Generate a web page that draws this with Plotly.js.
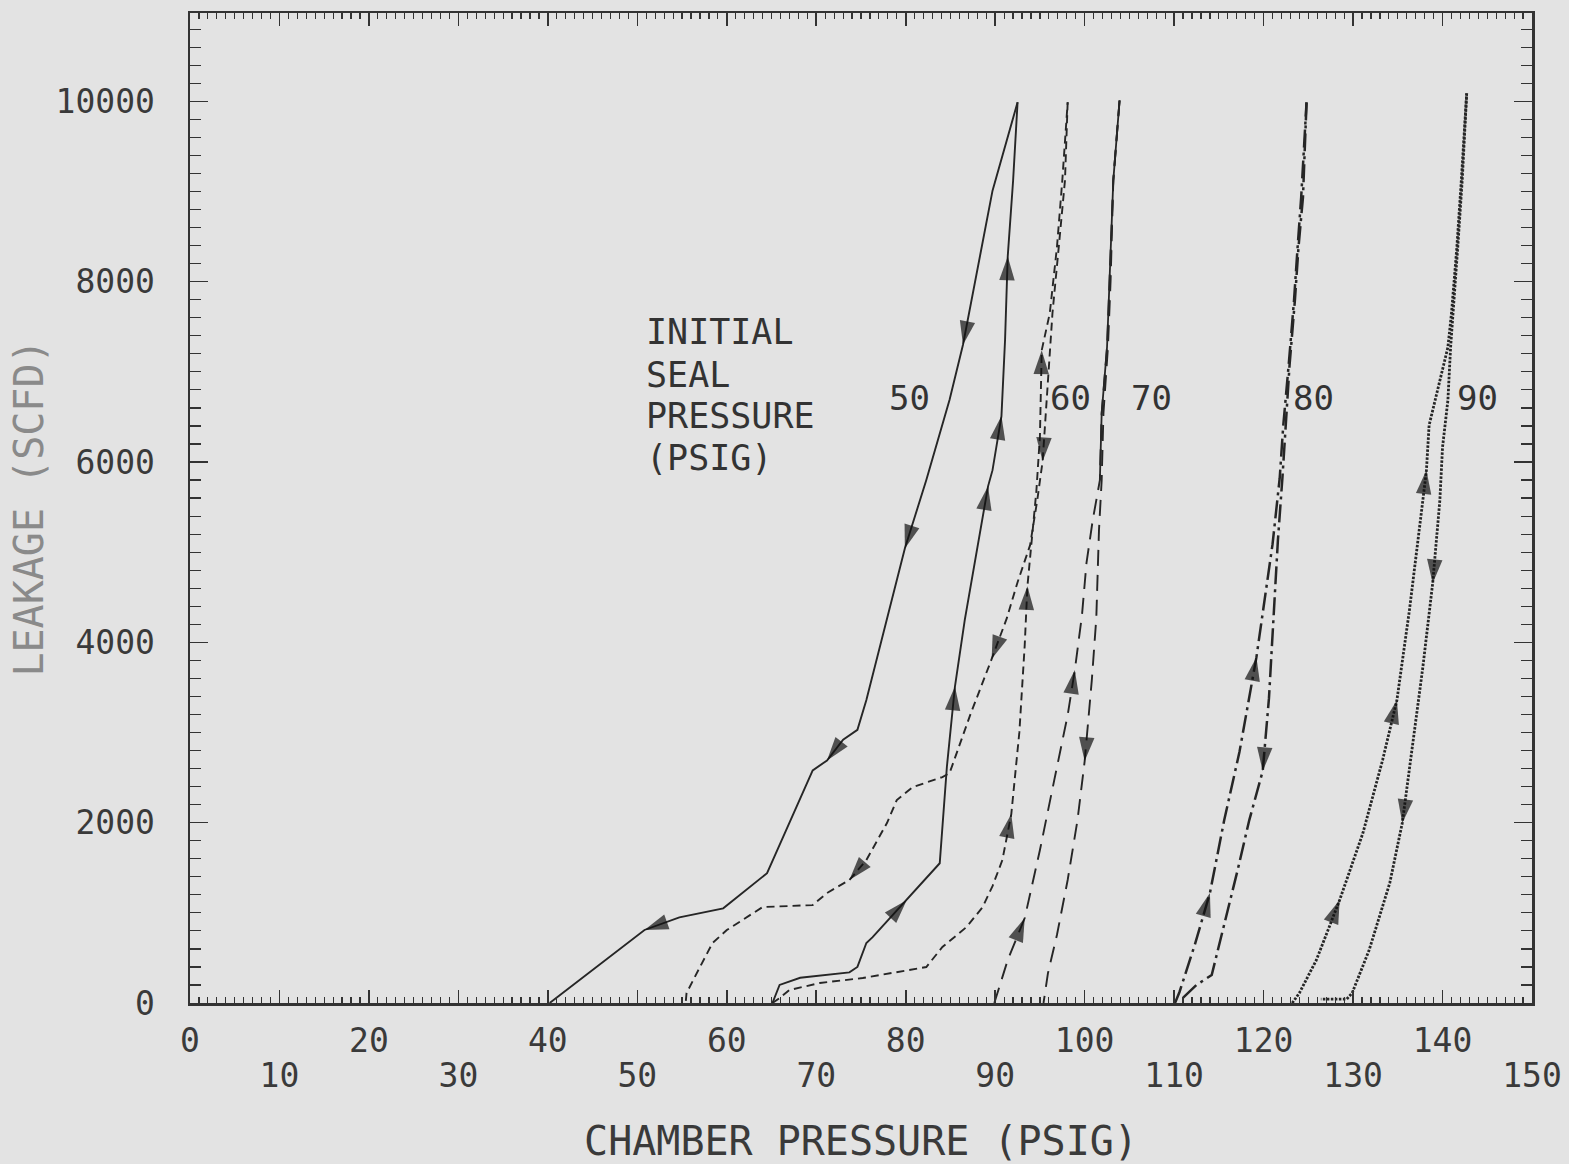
<!DOCTYPE html>
<html>
<head>
<meta charset="utf-8">
<script src="https://cdn.plot.ly/plotly-3.0.1.min.js"></script>
<style>html,body{margin:0;padding:0;background:#e3e3e3;}</style>
</head>
<body>
<div id="chart" style="width:1569px;height:1164px;"></div>
<script>
// ---------- data (chamber pressure psig, leakage scfd) ----------
// 50 psig initial seal pressure
var x50Down = [92.5, 89.7, 86.4, 84.9, 82.3, 79.9, 75.6, 74.6, 73.0, 71.2, 69.6, 64.5, 59.6, 54.7, 50.8, 40.2];
var y50Down = [9990, 9010, 7300, 6690, 5800, 5040, 3360, 3030, 2920, 2690, 2580, 1440, 1050, 950, 810, 0];
var a50Down = [2, 5, 9, 14];
var x50Up = [65.1, 65.9, 68.2, 73.7, 74.6, 75.6, 76.3, 80.1, 83.8, 84.6, 85.5, 86.6, 89.2, 89.7, 90.7, 91.1, 91.4, 92.0, 92.5];
var y50Up = [0, 200, 280, 340, 400, 665, 730, 1140, 1550, 2620, 3510, 4250, 5730, 5910, 6510, 7350, 8280, 9120, 9990];
var a50Up = [7, 10, 12, 14, 16];

// 60 psig
var x60Up = [65.1, 65.9, 67.0, 70.4, 75.2, 79.3, 82.3, 84.1, 86.8, 88.6, 89.7, 90.8, 91.8, 92.7, 93.3, 93.6, 94.1, 94.6, 95.0, 95.2, 96.1, 96.9, 97.5, 98.1];
var y60Up = [0, 55, 144, 222, 277, 344, 399, 621, 843, 1064, 1297, 1585, 2095, 3004, 3969, 4623, 5177, 5676, 6286, 7239, 7650, 8381, 9124, 9990];
var a60Up = [12, 15, 19];
var x60Down = [98.1, 97.8, 97.1, 96.4, 95.9, 95.5, 95.3, 94.7, 93.9, 92.5, 91.3, 89.6, 87.2, 84.9, 84.1, 80.8, 79.0, 77.9, 75.6, 73.7, 71.2, 69.6, 64.0, 60.0, 58.4, 57.0, 55.5, 55.4];
var y60Down = [9990, 9124, 8381, 7650, 6907, 6353, 6009, 5576, 5078, 4667, 4268, 3814, 3193, 2550, 2506, 2395, 2251, 1996, 1585, 1364, 1220, 1086, 1064, 809, 665, 399, 111, 0];
var a60Down = [6, 11, 19];

// 70 psig
var x70Up = [89.9, 91.4, 93.3, 95.0, 96.6, 98.1, 98.9, 99.7, 100.2, 100.9, 101.7, 101.9, 102.5, 102.8, 103.2, 103.9];
var y70Up = [0, 477, 942, 1696, 2472, 3193, 3692, 4302, 4878, 5355, 5798, 6541, 7273, 8016, 9124, 10010];
var a70Up = [2, 6];
var x70Down = [103.9, 103.2, 102.9, 102.6, 102.1, 101.9, 101.6, 101.3, 100.8, 100.0, 99.2, 98.1, 96.9, 95.9, 95.4];
var y70Down = [10010, 9124, 8016, 7273, 6541, 5798, 5244, 4268, 3581, 2683, 2029, 1364, 754, 333, 0];
var a70Down = [9];

// 80 psig
var x80Up = [110.1, 110.6, 112.3, 114.0, 115.6, 117.3, 119.2, 119.9, 121.0, 121.8, 122.2, 122.8, 123.4, 123.8, 124.2, 124.8];
var y80Up = [0, 122, 643, 1220, 2029, 2783, 3836, 4335, 5089, 5820, 6408, 7073, 7794, 8381, 8936, 9989];
var a80Up = [3, 6];
var x80Down = [124.8, 124.4, 123.9, 123.5, 122.9, 122.5, 122.1, 121.6, 121.1, 120.6, 119.9, 118.4, 117.1, 115.6, 114.5, 114.2, 112.5, 110.6];
var y80Down = [9989, 8936, 8381, 7794, 7073, 6408, 5820, 5133, 4279, 3381, 2572, 2029, 1475, 865, 421, 310, 200, 22];
var a80Down = [10];

// 90 psig
var x90Up = [123.2, 124.0, 125.9, 128.5, 131.1, 133.3, 134.9, 136.3, 137.8, 138.2, 138.5, 139.7, 140.6, 141.0, 141.6, 142.1, 142.7];
var y90Up = [0, 111, 477, 1142, 1885, 2694, 3359, 4357, 5576, 5909, 6408, 6907, 7273, 7650, 8381, 9124, 10089];
var a90Up = [3, 6, 9];
var x90Down = [142.7, 142.2, 141.7, 141.2, 140.9, 140.6, 140.0, 139.7, 138.9, 137.8, 136.6, 135.5, 134.1, 131.8, 129.9, 129.3, 126.4];
var y90Down = [10089, 9124, 8381, 7650, 7273, 6685, 6164, 5576, 4656, 3725, 2805, 1996, 1330, 588, 111, 44, 44];
var a90Down = [8, 11];

// labels
var curveLabels = ['50', '60', '70', '80', '90'];
var curveLabelX = [80.4, 98.4, 107.5, 125.6, 143.9];
var curveLabelY = 6707;
var noteLines = ['INITIAL', 'SEAL', 'PRESSURE', '(PSIG)'];
var noteX = 50.9;
var noteY = [7440, 6962, 6508, 6042];
var xTickVals = [0, 10, 20, 30, 40, 50, 60, 70, 80, 90, 100, 110, 120, 130, 140, 150];
var xRow1Vals = [0, 20, 40, 60, 80, 100, 120, 140];
var xRow2Vals = [10, 30, 50, 70, 90, 110, 130, 150];
var yTickVals = [0, 2000, 4000, 6000, 8000, 10000];

// ---------- styling ----------
var INK = '#262626';
var FONT = 'DejaVu Sans Mono, monospace';

var traces = [];
function curve(xs, ys, arrows, dash, width) {
  traces.push({
    type: 'scatter', mode: 'lines', x: xs, y: ys,
    line: {color: INK, width: width || 1.9, dash: dash},
    hoverinfo: 'skip', showlegend: false
  });
  arrows.forEach(function (i) {
    traces.push({
      type: 'scatter', mode: 'markers', x: [xs[i - 1], xs[i]], y: [ys[i - 1], ys[i]],
      marker: {symbol: 'arrow', size: [0, 25], color: '#111111', angleref: 'previous', line: {width: 0}},
      hoverinfo: 'skip', showlegend: false
    });
  });
}

function topPart(xs, ys, minY) {
  var ox = [], oy = [];
  for (var i = 0; i < xs.length; i++) { if (ys[i] >= minY) { ox.push(xs[i]); oy.push(ys[i]); } }
  traces.push({type: 'scatter', mode: 'lines', x: ox, y: oy, line: {color: INK, width: 1.8}, hoverinfo: 'skip', showlegend: false});
}

var D60 = '8px,5px', D70 = '16px,9px', D80 = '18px,5px,3px,5px', D90 = '2.5px,1.5px';

curve(x50Down, y50Down, a50Down, 'solid');
curve(x50Up, y50Up, a50Up, 'solid');
curve(x60Up, y60Up, a60Up, D60);
curve(x60Down, y60Down, a60Down, D60);
curve(x70Up, y70Up, a70Up, D70);
curve(x70Down, y70Down, a70Down, D70);
topPart(x70Up, y70Up, 5798);
curve(x80Up, y80Up, a80Up, D80, 2.5);
curve(x80Down, y80Down, a80Down, D80, 2.5);
curve(x90Up, y90Up, a90Up, D90, 2.8);
curve(x90Down, y90Down, a90Down, D90, 2.8);
traces.push({type: 'scatter', mode: 'lines', x: [], y: [], xaxis: 'x2', yaxis: 'y', hoverinfo: 'skip', showlegend: false});

var annotations = [];
curveLabels.forEach(function (t, i) {
  annotations.push({x: curveLabelX[i], y: curveLabelY, xref: 'x', yref: 'y', text: t, showarrow: false,
    xanchor: 'center', yanchor: 'middle', font: {family: FONT, size: 34, color: '#333333'}});
});
noteLines.forEach(function (t, i) {
  annotations.push({x: noteX, y: noteY[i], xref: 'x', yref: 'y', text: t, showarrow: false,
    borderpad: 0, xanchor: 'left', yanchor: 'middle', font: {family: FONT, size: 35, color: '#333333'}});
});

var axisCommon = {showgrid: false, zeroline: false, automargin: false};

var layout = {
  width: 1569, height: 1164,
  margin: {l: 190, r: 37, t: 13, b: 161, pad: 0},
  paper_bgcolor: '#e3e3e3', plot_bgcolor: '#e3e3e3',
  showlegend: false,
  xaxis: Object.assign({}, axisCommon, {
    range: [0, 150], showline: true, linecolor: '#333333', linewidth: 2.5, mirror: 'ticks',
    ticks: 'inside', ticklen: 13, tickwidth: 1.6, tickcolor: '#333333',
    tickvals: xTickVals,
    ticktext: xTickVals.map(function (v) { return xRow1Vals.indexOf(v) >= 0 ? String(v) : ''; }),
    ticklabelstandoff: 7,
    tickfont: {family: FONT, size: 33, color: '#3a3a3a'},
    minor: {dtick: 1, ticks: 'inside', ticklen: 6, tickwidth: 1.2, tickcolor: '#333333'}
  }),
  xaxis2: Object.assign({}, axisCommon, {
    range: [0, 150], overlaying: 'x', anchor: 'y', side: 'bottom',
    showline: false, ticks: '',
    tickvals: xRow2Vals, ticktext: xRow2Vals.map(String),
    ticklabelstandoff: 50,
    tickfont: {family: FONT, size: 33, color: '#3a3a3a'},
    title: {text: 'CHAMBER PRESSURE (PSIG)', font: {family: FONT, size: 40, color: '#3a3a3a'}, standoff: 32}
  }),
  yaxis: Object.assign({}, axisCommon, {
    range: [0, 10980], showline: true, linecolor: '#333333', linewidth: 2.5, mirror: 'ticks',
    ticks: 'inside', ticklen: 18, tickwidth: 1.6, tickcolor: '#333333',
    tickvals: yTickVals, ticktext: yTickVals.map(String),
    ticklabelstandoff: 26,
    tickfont: {family: FONT, size: 33, color: '#3a3a3a'},
    minor: {dtick: 200, ticks: 'inside', ticklen: 11, tickwidth: 1.2, tickcolor: '#333333'},
    title: {text: 'LEAKAGE (SCFD)', font: {family: FONT, size: 40, color: '#8a8a8a'}, standoff: 0}
  }),
  annotations: annotations
};

Plotly.newPlot('chart', traces, layout, {staticPlot: true, displayModeBar: false});
</script>
</body>
</html>
